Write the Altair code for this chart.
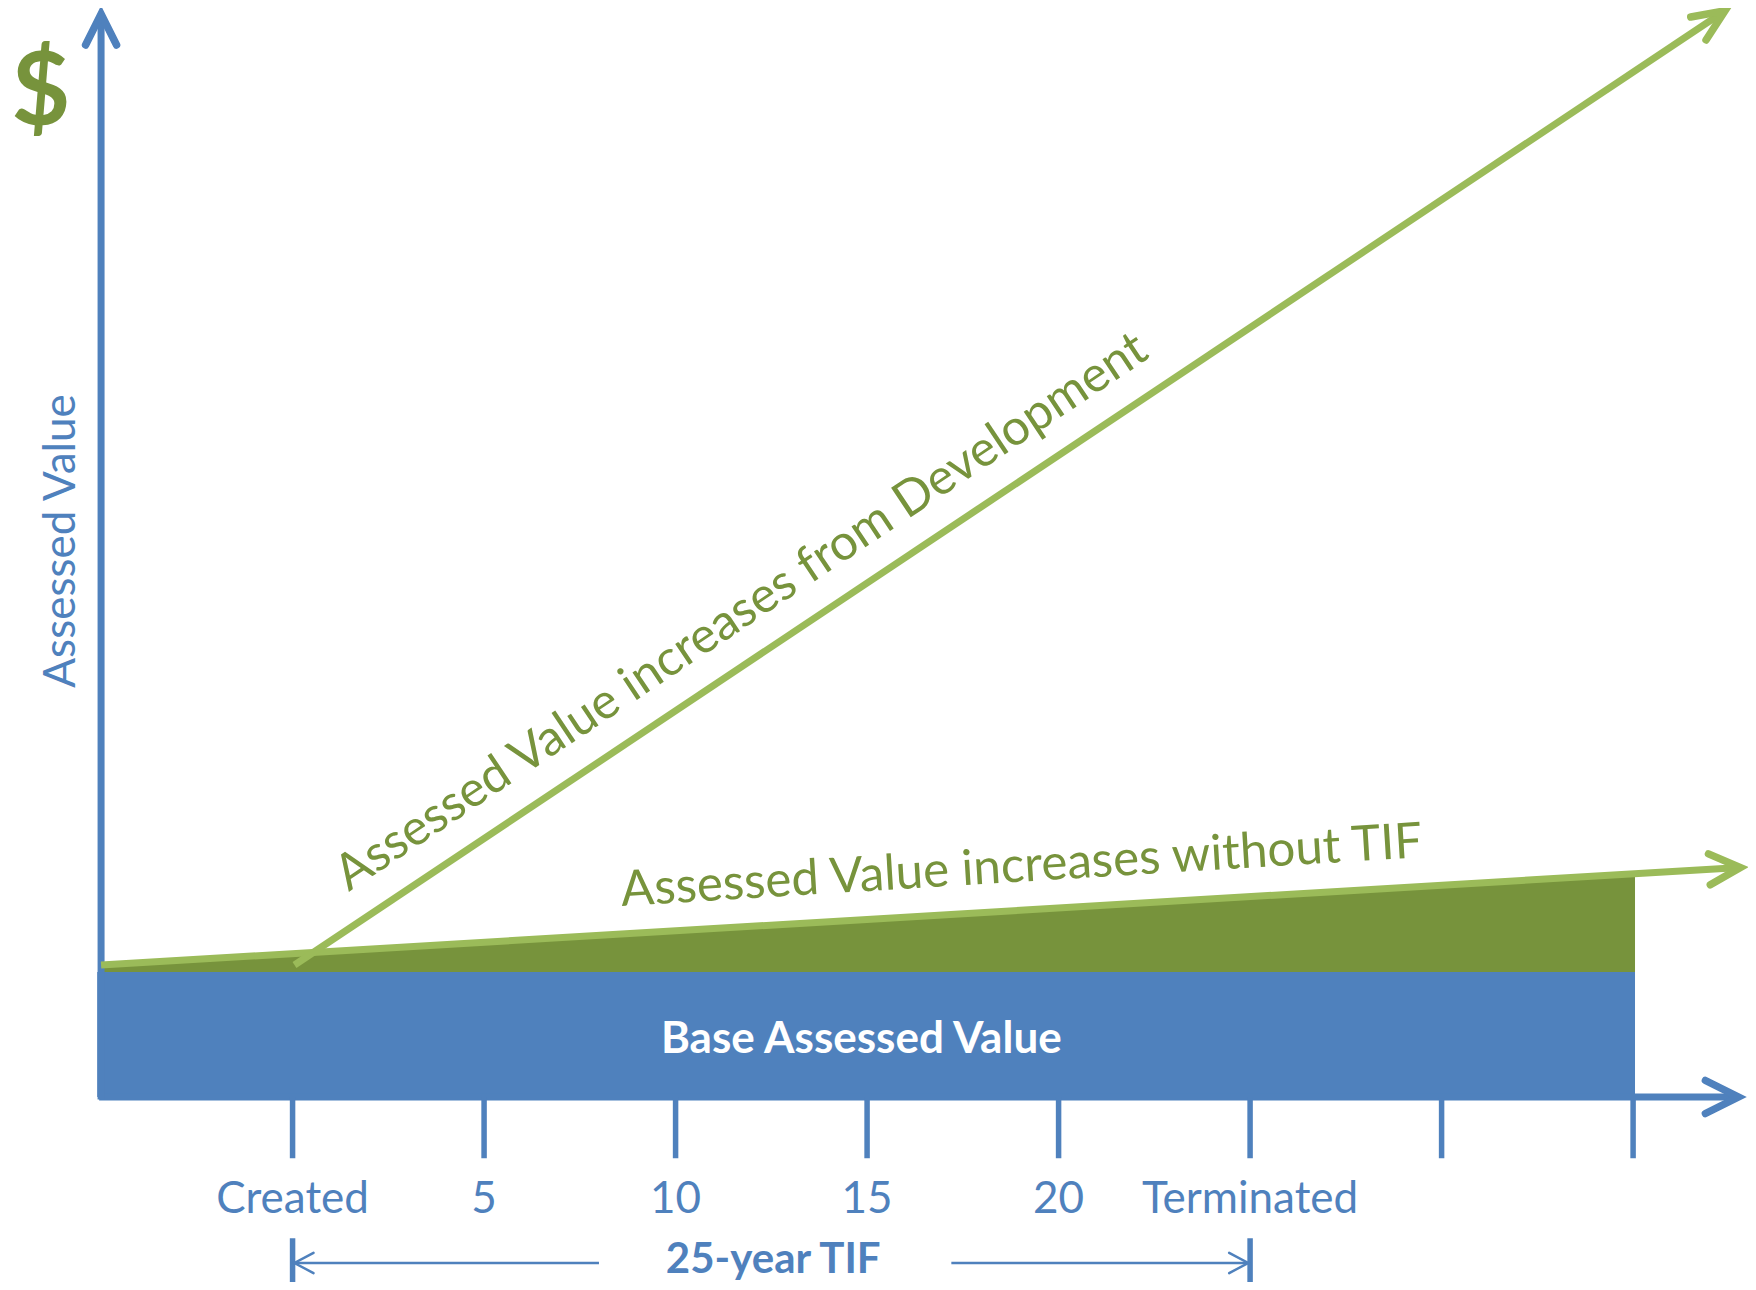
import altair as alt
import pandas as pd

BLUE = "#4F81BD"
LIGHT_GREEN = "#9BBB59"
DARK_GREEN = "#77933C"
FONT = "Lato"

# ---- data (x = years after TIF creation, y = assessed value, base = 100) ----
tick_years = [0, 5, 10, 15, 20, 25, 30, 35]
tick_labels = ["Created", "5", "10", "15", "20", "Terminated", "", ""]

base_start = -5.1
base_end = 35.05
base_value = 100

without_years = [-5, 37.8]
without_values = [105.6, 183.6]

fill_years = [-5, 35.05]
fill_values = [105.6, 178.6]

dev_years = [0.05, 37.4]
dev_values = [105.6, 869.0]

tif_start = 0
tif_end = 25

# ---- scales ----
XS = alt.Scale(domain=[-7.43, 38.0], nice=False, zero=False)
YS = alt.Scale(domain=[-148.0, 871.2], nice=False, zero=False)


def X(f="x"):
    return alt.X(f"{f}:Q", scale=XS, axis=None)


def Y(f="y"):
    return alt.Y(f"{f}:Q", scale=YS, axis=None)


# base rectangle
base_df = pd.DataFrame({"x": [base_start], "x2": [base_end], "y": [0], "y2": [base_value]})
base_rect = alt.Chart(base_df).mark_rect(color=BLUE, opacity=1).encode(
    x=X(), x2="x2:Q", y=Y(), y2="y2:Q"
)

# increment area (without TIF)
fill_df = pd.DataFrame({"x": fill_years, "y": fill_values, "base": [base_value] * len(fill_years)})
fill_area = alt.Chart(fill_df).mark_area(color=DARK_GREEN, opacity=1).encode(
    x=X(), y=Y(), y2="base:Q"
)

# axes lines
xaxis_df = pd.DataFrame({"x": [-5.05], "x2": [37.75], "y": [0]})
xaxis = alt.Chart(xaxis_df).mark_rule(color=BLUE, strokeWidth=7).encode(
    x=X(), x2="x2:Q", y=Y()
)
yaxis_df = pd.DataFrame({"x": [-5], "y": [-2], "y2": [866.4]})
yaxis = alt.Chart(yaxis_df).mark_rule(color=BLUE, strokeWidth=7).encode(
    x=X(), y=Y(), y2="y2:Q"
)

# ticks
ticks_df = pd.DataFrame({"x": tick_years, "label": tick_labels, "y": [0] * 8, "y2": [-49] * 8})
ticks = alt.Chart(ticks_df).mark_rule(color=BLUE, strokeWidth=5.5).encode(
    x=X(), y=Y(), y2="y2:Q"
)
tick_text = alt.Chart(ticks_df).mark_text(
    font=FONT, fontSize=44, color=BLUE, align="center", baseline="alphabetic"
).encode(x=X(), y=alt.Y("ty:Q", scale=YS, axis=None), text="label:N").transform_calculate(ty="-92.8")

# TIF bracket
bracket_df = pd.DataFrame({"x": [tif_start, tif_end], "y": [-113, -113], "y2": [-150, -150]})
bracket = alt.Chart(bracket_df).mark_rule(color=BLUE, strokeWidth=5.5).encode(
    x=X(), y=Y(), y2="y2:Q"
)
span_df = pd.DataFrame({"x": [tif_start, 17.2], "x2": [8.0, tif_end], "y": [-132.8, -132.8]})
span = alt.Chart(span_df).mark_rule(color=BLUE, strokeWidth=2.5).encode(
    x=X(), x2="x2:Q", y=Y()
)

# lines
without_df = pd.DataFrame({"x": without_years, "y": without_values})
without_line = alt.Chart(without_df).mark_line(color=LIGHT_GREEN, strokeWidth=7, strokeCap="butt").encode(
    x=X(), y=Y()
)
dev_df = pd.DataFrame({"x": dev_years, "y": dev_values})
dev_line = alt.Chart(dev_df).mark_line(color=LIGHT_GREEN, strokeWidth=7, strokeCap="butt").encode(
    x=X(), y=Y()
)

CHEVRON = "M-1,-0.5L0,0L-1,0.5"
CHEVRON_NARROW = "M-1,-0.43L0,0L-1,0.43"
CHEVRON_WIDE = "M-1,-0.53L0,0L-1,0.53"


def arrowhead(x, y, angle, size, color, width, shape=CHEVRON):
    df = pd.DataFrame({"x": [x], "y": [y]})
    return alt.Chart(df).mark_point(
        shape=shape, size=size, angle=angle, filled=False, opacity=1,
        color=color, stroke=color, strokeWidth=width,
        strokeCap="round", strokeJoin="miter",
    ).encode(x=X(), y=Y())


arrows = [
    arrowhead(-5, 866.4, 270, 3844, BLUE, 7.5),
    arrowhead(37.75, 0, 0, 4356, BLUE, 7.5),
    arrowhead(without_years[-1], without_values[-1], 356.6, 3844, LIGHT_GREEN, 7.5),
    arrowhead(dev_years[-1], dev_values[-1], 326.3, 4096, LIGHT_GREEN, 7.5, CHEVRON_NARROW),
    arrowhead(tif_start + 0.05, -132.8, 180, 1444, BLUE, 2.5, CHEVRON_WIDE),
    arrowhead(tif_end - 0.05, -132.8, 0, 1444, BLUE, 2.5, CHEVRON_WIDE),
]


def label(text, x, y, size, color, bold=False, angle=0, dy=0):
    df = pd.DataFrame({"x": [x], "y": [y], "t": [text]})
    kw = dict(font=FONT, fontSize=size, color=color, align="center", baseline="alphabetic",
              fontWeight="bold" if bold else "normal")
    if angle:
        kw["angle"] = angle
    if dy:
        kw["dy"] = dy
    return alt.Chart(df).mark_text(**kw).encode(x=X(), y=Y(), text="t:N")


labels = [
    label("$", -6.57, 777.6, 102, DARK_GREEN, bold=True),
    label("Assessed Value", -5.68, 444.8, 44, BLUE, angle=270),
    label("25-year TIF", 12.55, -141.0, 42, BLUE, bold=True),
    label("Base Assessed Value", 14.85, 35.2, 44, "white", bold=True),
    label("Assessed Value increases from Development", 12.4, 356.7, 49.5, DARK_GREEN, angle=326.3, dy=-32),
    label("Assessed Value increases without TIF", 19.1, 150.8, 49.3, DARK_GREEN, angle=356.5, dy=-27),
]

chart = alt.layer(
    base_rect, fill_area, xaxis, yaxis, ticks, bracket, span,
    without_line, dev_line, *arrows, tick_text, *labels,
).properties(
    width=1740, height=1274, background="white",
    autosize=alt.AutoSizeParams(type="none"), padding=0,
).configure_view(stroke="transparent", strokeWidth=0)

chart.save("out.html", embed_options={"renderer": "svg", "actions": False})
